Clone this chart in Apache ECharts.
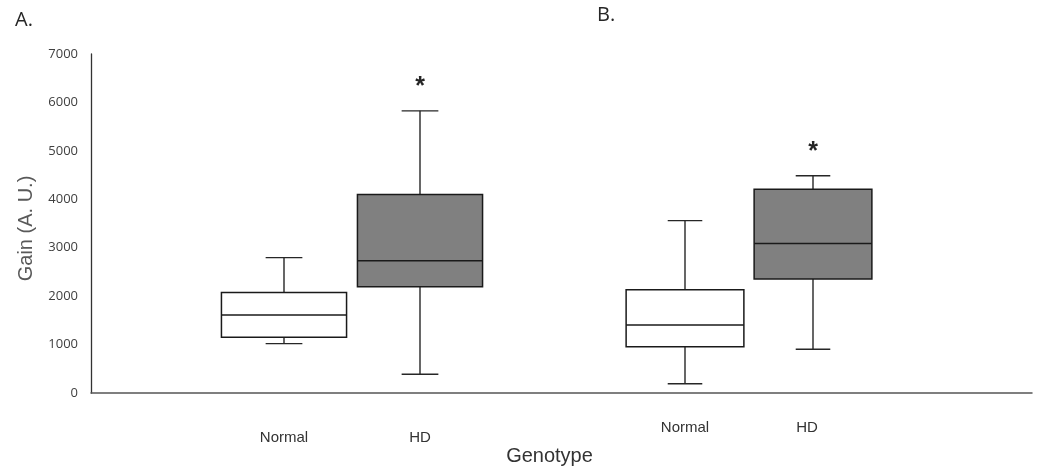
<!DOCTYPE html>
<html>
<head>
<meta charset="utf-8">
<script src="https://cdn.jsdelivr.net/npm/echarts@6/dist/echarts.min.js"></script>
<style>
  html, body { margin: 0; padding: 0; background: #fff; }
  #main { width: 1045px; height: 471px; }
</style>
</head>
<body>
<div id="main"></div>
<script>
// categories for each panel
var categories = ['Normal', 'HD'];
// box stats: [min, Q1, median, Q3, max]
var panelA = [
  [1090, 1220, 1675, 2135, 2845],
  [465, 2250, 2780, 4135, 5840]
];
var panelB = [
  [270, 1025, 1470, 2190, 3600],
  [975, 2410, 3135, 4240, 4515]
];
// significance marks above each box
var starsA = ['', '*'];
var starsB = ['', '*'];
var yTicks = [0, 1000, 2000, 3000, 4000, 5000, 6000, 7000];

var myChart = echarts.init(document.getElementById('main'));

function toSeriesData(stats, stars) {
  var out = [];
  for (var i = 0; i < stats.length; i++) {
    out.push({ value: [i].concat(stats[i]), star: stars[i] });
  }
  return out;
}

function makeRender(stars) {
  return function (params, api) {
    var i = api.value(0);
    var pMin = api.coord([i, api.value(1)]);
    var pQ1 = api.coord([i, api.value(2)]);
    var pMed = api.coord([i, api.value(3)]);
    var pQ3 = api.coord([i, api.value(4)]);
    var pMax = api.coord([i, api.value(5)]);
    var band = api.size([1, 0])[0];
    var half = band * 0.46;
    var capHalf = band * 0.135;
    var x = pMed[0];
    var line = { stroke: '#262626', lineWidth: 1.4 };
    var kids = [
      { type: 'line', shape: { x1: x, y1: pMax[1], x2: x, y2: pQ3[1] }, style: line },
      { type: 'line', shape: { x1: x, y1: pQ1[1], x2: x, y2: pMin[1] }, style: line },
      { type: 'line', shape: { x1: x - capHalf, y1: pMax[1], x2: x + capHalf, y2: pMax[1] }, style: line },
      { type: 'line', shape: { x1: x - capHalf, y1: pMin[1], x2: x + capHalf, y2: pMin[1] }, style: line },
      {
        type: 'rect',
        shape: { x: x - half, y: pQ3[1], width: half * 2, height: pQ1[1] - pQ3[1] },
        style: { fill: categories[i] === 'HD' ? '#808080' : '#ffffff', stroke: '#1a1a1a', lineWidth: 1.5 }
      },
      { type: 'line', shape: { x1: x - half, y1: pMed[1], x2: x + half, y2: pMed[1] }, style: { stroke: '#1a1a1a', lineWidth: 1.5 } }
    ];
    if (stars[i]) {
      kids.push({
        type: 'text',
        style: {
          text: stars[i], x: x, y: pMax[1] - 24,
          align: 'center', verticalAlign: 'middle',
          font: 'bold 25px "Liberation Sans", Arial', fill: '#262626'
        }
      });
    }
    return { type: 'group', children: kids };
  };
}

var hiddenY = function (idx) {
  return { gridIndex: idx, type: 'value', min: 0, max: 7000, interval: 1000, show: false };
};

var option = {
  animation: false,
  backgroundColor: '#fff',
  title: [
    { text: 'A.', left: 10, top: 5, textStyle: { fontFamily: 'Open Sans', fontSize: 20, fontWeight: 'normal', color: '#262626' } },
    { text: 'B.', left: 592, top: 0, textStyle: { fontFamily: 'Open Sans', fontSize: 20, fontWeight: 'normal', color: '#262626' } }
  ],
  grid: [
    { left: 91, right: 13, top: 54, bottom: 74 },
    { left: 216, width: 272, top: 54, bottom: 74 },
    { left: 621, width: 256, top: 54, bottom: 74 }
  ],
  xAxis: [
    {
      gridIndex: 0, type: 'category', data: [''],
      axisLine: { lineStyle: { color: '#555', width: 1.5 } },
      axisTick: { show: false }, axisLabel: { show: false },
      name: 'Genotype', nameLocation: 'middle', nameGap: 53,
      nameTextStyle: { fontFamily: 'Liberation Sans', fontSize: 20, color: '#333', padding: [0, 24, 0, 0] }
    },
    {
      gridIndex: 1, type: 'category', data: categories,
      axisLine: { show: false }, axisTick: { show: false },
      axisLabel: { margin: 33, fontFamily: 'Liberation Sans', fontSize: 15, color: '#333' }
    },
    {
      gridIndex: 2, type: 'category', data: categories,
      axisLine: { show: false }, axisTick: { show: false },
      axisLabel: {
        margin: 23, fontFamily: 'Liberation Sans', fontSize: 15, color: '#333',
        formatter: function (v) { return v === 'HD' ? '{hd|' + v + '}' : v; },
        rich: { hd: { fontFamily: 'Liberation Sans', fontSize: 15, color: '#333', padding: [0, 12, 0, 0] } }
      }
    }
  ],
  yAxis: [
    {
      gridIndex: 0, type: 'value', min: yTicks[0], max: yTicks[yTicks.length - 1], interval: 1000,
      axisLine: { show: true, lineStyle: { color: '#333', width: 1.3 } },
      axisTick: { show: false }, splitLine: { show: false },
      axisLabel: { margin: 13, fontFamily: 'Open Sans', fontSize: 13, color: '#404040', formatter: function (v) { return String(v); } },
      name: 'Gain (A. U.)', nameLocation: 'middle', nameGap: 55,
      nameTextStyle: { fontFamily: 'Liberation Sans', fontSize: 20, color: '#595959', padding: [0, 10, 0, 0] }
    },
    hiddenY(1),
    hiddenY(2)
  ],
  series: [
    {
      type: 'custom', xAxisIndex: 1, yAxisIndex: 1,
      renderItem: makeRender(starsA),
      encode: { x: 0, y: [1, 2, 3, 4, 5] },
      data: toSeriesData(panelA, starsA)
    },
    {
      type: 'custom', xAxisIndex: 2, yAxisIndex: 2,
      renderItem: makeRender(starsB),
      encode: { x: 0, y: [1, 2, 3, 4, 5] },
      data: toSeriesData(panelB, starsB)
    }
  ]
};

myChart.setOption(option);
</script>
</body>
</html>
